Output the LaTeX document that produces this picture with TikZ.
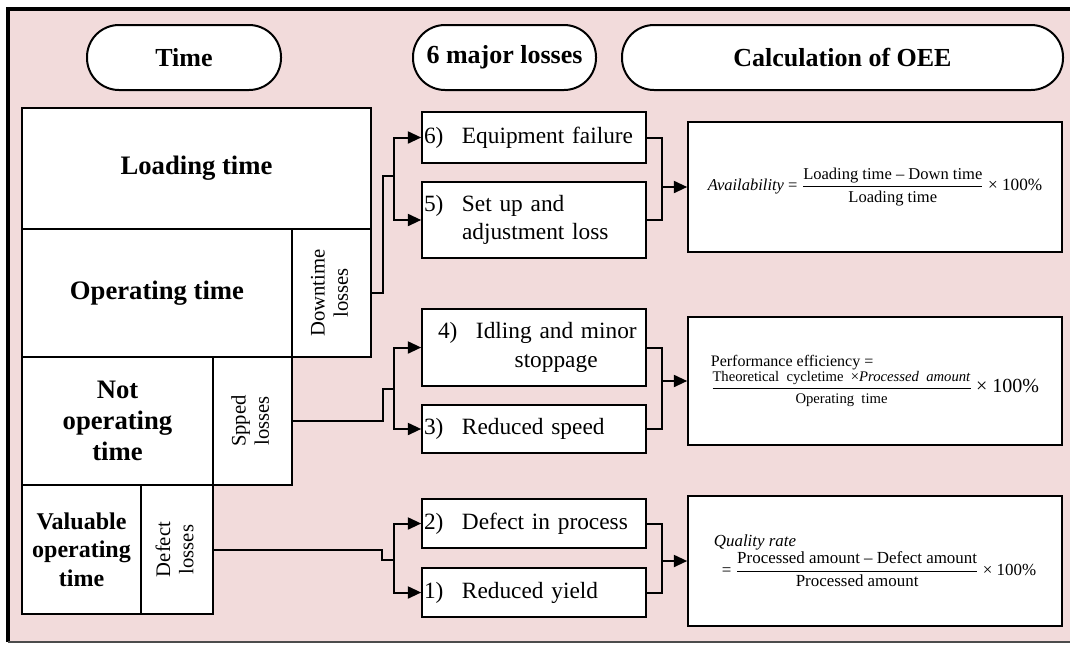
\RequirePackage{fix-cm}
\documentclass[tikz,border=0pt]{standalone}
\usepackage{fontspec}
\setmainfont{Liberation Serif}
\usepackage{amsmath}
\usepackage{graphicx}
\usetikzlibrary{arrows.meta}

\definecolor{bgpink}{HTML}{F2DBDB}
\newcommand{\lossno}[1]{\makebox[28.5pt][l]{#1}}
\newcommand{\sidetext}[2]{\rotatebox{90}{\begin{tabular}{@{}c@{}}#1\\#2\end{tabular}}}

\begin{document}
\begin{tikzpicture}[
    x=0.75pt, y=-0.75pt,
    head/.style={draw, line width=1.5pt, fill=white, rectangle, rounded corners=24pt,
      minimum height=48.75pt, font=\fontsize{19.5}{23}\selectfont\bfseries},
    timebox/.style={draw, line width=1.2pt, fill=white, rectangle, inner sep=0pt,
      align=center, font=\fontsize{20}{23}\selectfont\bfseries},
    sidebox/.style={timebox, font=\fontsize{15.5}{17.5}\selectfont},
    lossbox/.style={draw, line width=1.2pt, fill=white, rectangle, minimum width=168pt,
      text width=165pt, inner xsep=1.5pt, align=left, font=\fontsize{17.5}{21.5}\selectfont},
    calcbox/.style={draw, line width=1.2pt, fill=white, rectangle, minimum width=280.5pt,
      align=left},
    conn/.style={line width=1.5pt},
    arr/.style={conn, -{Triangle[length=10pt, width=9pt]}}
  ]
    \useasboundingbox (0,0) rectangle (1070,644);

    % Frame
    \fill[bgpink] (8,9) rectangle (1075,642);
    \draw[line width=3pt] (8,642) -- (8,9) -- (1075,9);
    \draw[line width=1.2pt, black!70] (8,642) -- (1075,642);

    % Headings
    \node[head, minimum width=145.5pt] at (184,57.5) (htime) {Time};
    \node[head, minimum width=137.25pt] at (504.5,57.5) (hloss) {6 major losses};
    \node[head, minimum width=330.75pt] at (842.5,57.5) (hcalc) {Calculation of OEE};

    % Time blocks
    \node[timebox, minimum width=261.75pt, minimum height=90.75pt] at (196.5,168.5) (load) {Loading time};
    \node[timebox, minimum width=202.5pt, minimum height=96pt] at (157,293) (oper) {Operating time};
    \node[sidebox, minimum width=59.25pt, minimum height=96pt] at (331.5,293) (down) {\sidetext{Downtime}{losses}};
    \node[timebox, minimum width=143.25pt, minimum height=96pt] at (117.5,421) (notop) {Not\\operating\\time};
    \node[sidebox, minimum width=59.25pt, minimum height=96pt] at (252.5,421) (speed) {\sidetext{Spped}{losses}};
    \node[timebox, font=\fontsize{18}{21.5}\selectfont\bfseries, minimum width=89.25pt, minimum height=96.75pt] at (81.5,549.5) (valop) {Valuable\\operating\\time};
    \node[sidebox, minimum width=54pt, minimum height=96.75pt] at (177,549.5) (defect) {\sidetext{Defect}{losses}};

    % Losses
    \node[lossbox, minimum height=38.25pt] at (534,137.5) (l6) {\lossno{6)}Equipment failure};
    \node[lossbox, minimum height=57pt] at (534,220) (l5) {\lossno{5)}Set up and\\\hspace*{28.5pt}adjustment loss};
    \node[lossbox, minimum height=57.75pt] at (534,347.5) (l4) {\hspace*{10.5pt}\lossno{4)}Idling and minor\\\hspace*{68pt}stoppage};
    \node[lossbox, minimum height=36pt] at (534,429) (l3) {\lossno{3)}Reduced speed};
    \node[lossbox, minimum height=36.75pt] at (534,523.5) (l2) {\lossno{2)}Defect in process};
    \node[lossbox, minimum height=36.75pt] at (534,592.5) (l1) {\lossno{1)}Reduced yield};

    % OEE formulas
    \node[calcbox, minimum height=97.5pt, font=\fontsize{12.4}{15}\selectfont] at (875,187) (avail)
      {\textit{Availability} = $\dfrac{\text{Loading time – Down time}}{\text{Loading time}}$ {\fontsize{12.9}{15}\selectfont × 100\%}};
    \node[calcbox, minimum height=96pt, font=\fontsize{12}{14}\selectfont] at (875,381) (perf)
      {Performance efficiency =\\$\dfrac{\text{\fontsize{11}{13}\selectfont Theoretical\ \ cycletime\ \ ×\textit{Processed\ \ amount}}}{\text{\fontsize{11}{13}\selectfont Operating\ \ time}}$ {\fontsize{15}{17}\selectfont × 100\%}};
    \node[calcbox, minimum height=97.5pt, font=\fontsize{12.7}{15}\selectfont] at (875,561) (qual)
      {\textit{Quality rate}\\\hspace*{6pt}= $\dfrac{\text{Processed amount – Defect amount}}{\text{Processed amount}}$ × 100\%};

    % Junctions
    \coordinate (j1) at (394,176);
    \coordinate (j2) at (394,389);
    \coordinate (j3) at (394,560);
    \coordinate (k1) at (662,187);
    \coordinate (k2) at (662,381);
    \coordinate (k3) at (662,561);

    % Connections
    \draw[conn] (down.east) -- ++(11,0) |- (j1);
    \draw[arr] (j1) |- (l6);
    \draw[arr] (j1) |- (l5);
    \draw[conn] (l6.east) -| (k1);
    \draw[conn] (l5.east) -| (k1);
    \draw[arr] (k1) -- (avail);

    \draw[conn] (speed.east) -- ++(90,0) |- (j2);
    \draw[arr] (j2) |- (l4);
    \draw[arr] (j2) |- (l3);
    \draw[conn] (l4.east) -| (k2);
    \draw[conn] (l3.east) -| (k2);
    \draw[arr] (k2) -- (perf);

    \draw[conn] (defect.east) -- ++(168,0) |- (j3);
    \draw[arr] (j3) |- (l2);
    \draw[arr] (j3) |- (l1);
    \draw[conn] (l2.east) -| (k3);
    \draw[conn] (l1.east) -| (k3);
    \draw[arr] (k3) -- (qual);

  \end{tikzpicture}
\end{document}
